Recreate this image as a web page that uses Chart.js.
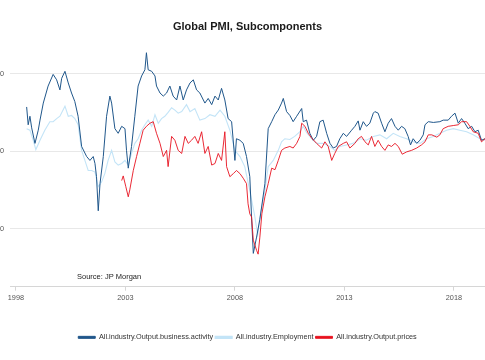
<!DOCTYPE html>
<html>
<head>
<meta charset="utf-8">
<script src="https://cdn.jsdelivr.net/npm/chart.js@4.4.1/dist/chart.umd.min.js"></script>
<style>
html,body{margin:0;padding:0;background:#fff;overflow:hidden;}
canvas{display:block;}
</style>
</head>
<body>
<canvas id="c" width="485" height="360"></canvas>
<script>
const seriesNames = ['All.industry.Output.business.activity','All.industry.Employment','All.industry.Output.prices'];
const xTickYears = [1998, 2003, 2008, 2013, 2018];
const yTickValues = [40, 50, 60];

const actYears = [1998.49,1998.56,1998.64,1998.72,1998.87,1999.02,1999.10,1999.25,1999.47,1999.70,1999.86,2000.01,2000.09,2000.24,2000.39,2000.54,2000.69,2000.84,2001.00,2001.23,2001.38,2001.53,2001.61,2001.68,2001.76,2001.84,2001.99,2002.14,2002.29,2002.37,2002.52,2002.67,2002.83,2002.98,2003.05,2003.13,2003.28,2003.43,2003.58,2003.74,2003.89,2003.96,2004.04,2004.20,2004.35,2004.42,2004.58,2004.73,2004.88,2005.03,2005.18,2005.34,2005.49,2005.64,2005.79,2005.95,2006.10,2006.25,2006.40,2006.63,2006.78,2006.94,2007.09,2007.24,2007.39,2007.54,2007.69,2007.85,2008.00,2008.07,2008.23,2008.38,2008.53,2008.68,2008.76,2008.84,2008.99,2009.14,2009.37,2009.52,2009.68,2009.83,2009.98,2010.13,2010.21,2010.36,2010.51,2010.66,2010.82,2011.05,2011.12,2011.27,2011.42,2011.58,2011.73,2011.88,2012.03,2012.19,2012.34,2012.49,2012.64,2012.79,2012.95,2013.10,2013.33,2013.48,2013.63,2013.71,2013.86,2014.01,2014.16,2014.32,2014.39,2014.54,2014.70,2014.85,2015.00,2015.15,2015.31,2015.46,2015.61,2015.76,2015.91,2016.02,2016.14,2016.30,2016.45,2016.60,2016.68,2016.83,2017.06,2017.36,2017.51,2017.74,2017.89,2018.05,2018.20,2018.35,2018.50,2018.65,2018.81,2018.96,2019.11,2019.26,2019.42];
const actValues = [55.7,53.4,54.5,53.0,51.0,52.7,54.0,56.2,58.4,59.9,59.2,57.9,59.4,60.3,58.8,57.5,56.4,54.5,50.6,49.3,48.8,49.3,48.4,46.7,42.3,45.8,49.3,54.5,57.1,56.2,52.9,52.3,53.2,52.9,50.1,47.8,50.6,54.5,58.4,59.7,60.5,62.7,60.5,60.3,59.7,58.4,57.5,57.1,57.5,58.4,57.1,56.6,58.4,56.6,57.9,58.8,59.2,57.9,57.5,56.2,56.8,56.0,57.1,56.6,58.1,56.6,54.2,53.8,48.8,51.6,51.4,51.0,49.3,46.7,41.5,36.8,38.9,41.2,45.8,52.9,53.8,54.7,55.3,56.2,56.8,55.1,54.6,53.8,54.5,55.5,53.8,54.0,52.3,51.4,51.9,53.8,54.0,52.3,51.0,50.4,50.6,51.6,52.3,51.9,52.7,53.2,53.9,52.7,53.8,53.2,53.6,54.9,55.1,54.9,53.6,52.5,53.6,54.2,53.2,52.7,53.2,52.9,51.9,50.8,51.6,51.0,51.4,52.1,53.4,53.8,53.7,53.8,54.0,54.0,54.5,54.9,53.6,54.2,53.6,52.9,53.2,52.5,52.7,51.4,51.6];

const empYears = [1998.49,1998.64,1998.79,1998.91,1999.10,1999.32,1999.55,1999.70,1999.86,2000.01,2000.24,2000.39,2000.54,2000.69,2000.84,2001.00,2001.15,2001.30,2001.46,2001.61,2001.76,2001.91,2002.06,2002.21,2002.37,2002.52,2002.67,2002.83,2002.98,2003.13,2003.28,2003.43,2003.58,2003.74,2003.89,2004.04,2004.20,2004.35,2004.50,2004.65,2004.80,2004.95,2005.11,2005.26,2005.41,2005.57,2005.79,2005.95,2006.17,2006.40,2006.63,2006.86,2007.09,2007.32,2007.54,2007.77,2008.00,2008.23,2008.45,2008.68,2008.90,2009.04,2009.14,2009.37,2009.52,2009.75,2009.98,2010.13,2010.28,2010.51,2010.73,2010.97,2011.12,2011.27,2011.50,2011.73,2012.03,2012.34,2012.56,2012.79,2013.10,2013.39,2013.71,2014.01,2014.32,2014.62,2014.93,2015.23,2015.53,2015.84,2016.14,2016.45,2016.75,2017.06,2017.36,2017.67,2017.97,2018.27,2018.58,2018.88,2019.19,2019.42];
const empValues = [52.9,52.7,51.4,50.2,51.4,52.7,53.8,53.8,54.2,54.5,55.8,54.5,54.6,54.2,53.4,50.1,48.8,47.5,47.5,47.3,45.4,46.0,47.1,48.8,50.1,48.6,48.2,48.4,48.8,48.2,49.7,51.0,51.6,52.7,53.4,54.0,53.2,54.7,53.6,54.2,54.5,55.0,55.6,55.3,54.9,55.1,56.0,55.1,55.5,54.0,54.2,54.7,54.5,55.3,54.5,52.7,50.1,49.3,48.0,44.9,41.7,39.2,41.5,44.9,48.0,48.8,50.1,51.2,51.6,51.5,51.9,52.5,53.2,52.4,51.6,51.0,51.0,50.6,50.1,50.6,50.8,51.0,51.6,51.4,51.9,52.1,51.6,52.3,51.9,51.6,51.2,51.0,51.6,51.9,52.3,52.7,52.9,52.7,52.5,52.1,51.6,51.4];

const priceYears = [2002.83,2002.90,2003.02,2003.13,2003.20,2003.36,2003.51,2003.66,2003.81,2003.96,2004.12,2004.27,2004.42,2004.58,2004.73,2004.88,2004.95,2005.11,2005.26,2005.41,2005.57,2005.72,2005.87,2006.02,2006.17,2006.32,2006.48,2006.63,2006.78,2006.94,2007.09,2007.24,2007.39,2007.54,2007.62,2007.77,2007.93,2008.07,2008.23,2008.38,2008.53,2008.60,2008.68,2008.76,2008.84,2008.99,2009.06,2009.14,2009.23,2009.37,2009.52,2009.68,2009.83,2009.98,2010.13,2010.28,2010.51,2010.66,2010.82,2010.97,2011.05,2011.20,2011.35,2011.50,2011.73,2011.96,2012.11,2012.26,2012.42,2012.56,2012.72,2012.95,2013.10,2013.25,2013.48,2013.63,2013.78,2013.94,2014.09,2014.24,2014.39,2014.54,2014.70,2014.85,2015.00,2015.15,2015.31,2015.46,2015.64,2015.84,2016.07,2016.30,2016.52,2016.68,2016.83,2016.99,2017.22,2017.36,2017.51,2017.74,2017.97,2018.20,2018.35,2018.58,2018.73,2018.88,2019.11,2019.26,2019.42];
const priceValues = [46.2,46.8,45.4,44.1,45.0,47.5,49.3,51.0,52.7,53.2,53.6,53.8,52.3,51.0,49.3,50.1,48.0,51.9,51.4,50.1,49.7,51.9,51.0,51.4,51.9,51.0,52.5,49.7,50.6,48.2,48.4,49.7,48.8,52.5,48.0,46.7,47.1,47.5,47.1,46.5,45.8,43.2,41.9,41.5,38.5,37.2,36.7,38.9,41.9,44.1,45.8,47.8,47.6,48.8,50.1,50.4,50.6,50.4,51.0,51.9,53.6,53.2,52.3,51.7,51.0,50.4,51.2,50.6,48.8,49.7,50.6,51.0,51.2,50.4,51.0,51.6,51.9,51.2,50.8,51.9,50.6,51.4,50.6,50.1,50.8,50.6,51.0,50.6,49.6,49.9,50.1,50.4,50.8,51.2,52.1,52.1,51.8,52.1,52.9,53.2,53.3,53.4,53.8,53.8,53.2,52.5,52.3,51.2,51.6];

function pts(xs, ys){ return xs.map((x,i)=>({x:x, y:ys[i]})); }

const FONT = "'Liberation Sans', Arial, sans-serif";

const sourcePlugin = {
  id: 'sourceNote',
  afterDatasetsDraw(chart){
    const {ctx, chartArea} = chart;
    ctx.save();
    ctx.font = "7.5px " + FONT;
    ctx.fillStyle = '#222';
    ctx.textBaseline = 'middle';
    ctx.textAlign = 'left';
    ctx.fillText('Source: JP Morgan', chartArea.left + 67, chartArea.bottom - 10);
    ctx.restore();
  }
};

new Chart(document.getElementById('c'), {
  type: 'line',
  data: {
    datasets: [
      {label: seriesNames[0], data: pts(actYears, actValues), borderColor: '#20578b', backgroundColor: '#20578b', borderWidth: 1.0, order: 1},
      {label: seriesNames[1], data: pts(empYears, empValues), borderColor: '#c3e4f7', backgroundColor: '#c3e4f7', borderWidth: 1.1, order: 2},
      {label: seriesNames[2], data: pts(priceYears, priceValues), borderColor: '#e8121f', backgroundColor: '#e8121f', borderWidth: 0.9, order: 0}
    ]
  },
  options: {
    responsive: false,
    animation: false,
    devicePixelRatio: 1,
    elements: { point: { radius: 0 }, line: { tension: 0 } },
    layout: { padding: { left: 0, right: 0, top: 0, bottom: 9 } },
    plugins: {
      tooltip: { enabled: false },
      title: {
        display: true,
        fullSize: false,
        text: 'Global PMI, Subcomponents',
        color: '#1a1a1a',
        font: { family: FONT, size: 11, weight: 'bold' },
        padding: { top: 20, bottom: 11 }
      },
      legend: {
        position: 'bottom',
        fullSize: false,
        labels: {
          boxWidth: 17,
          boxHeight: 2,
          padding: 2,
          color: '#333',
          font: { family: FONT, size: 7.3 },
          sort: (a, b) => a.datasetIndex - b.datasetIndex
        }
      }
    },
    scales: {
      x: {
        type: 'linear',
        min: 1997.73,
        max: 2019.42,
        afterBuildTicks: (s) => { s.ticks = xTickYears.map(v => ({value: v})); },
        afterFit: (s) => { s.height = 45; },
        grid: { drawOnChartArea: false, drawTicks: true, tickLength: 4, color: '#d6d6d6' },
        border: { display: true, color: '#d6d6d6', width: 1 },
        ticks: { padding: 3, color: '#555', font: { family: FONT, size: 7.3 }, maxRotation: 0, callback: (v) => String(v) }
      },
      y: {
        min: 32.5,
        max: 63.8,
        afterBuildTicks: (s) => { s.ticks = yTickValues.map(v => ({value: v})); },
        afterFit: (s) => { s.width = 10; },
        grid: { drawTicks: false, color: '#e8e8e8', lineWidth: 1 },
        border: { display: false },
        ticks: { padding: 6, color: '#555', font: { family: FONT, size: 7.3 } }
      }
    }
  },
  plugins: [sourcePlugin]
});
</script>
</body>
</html>
